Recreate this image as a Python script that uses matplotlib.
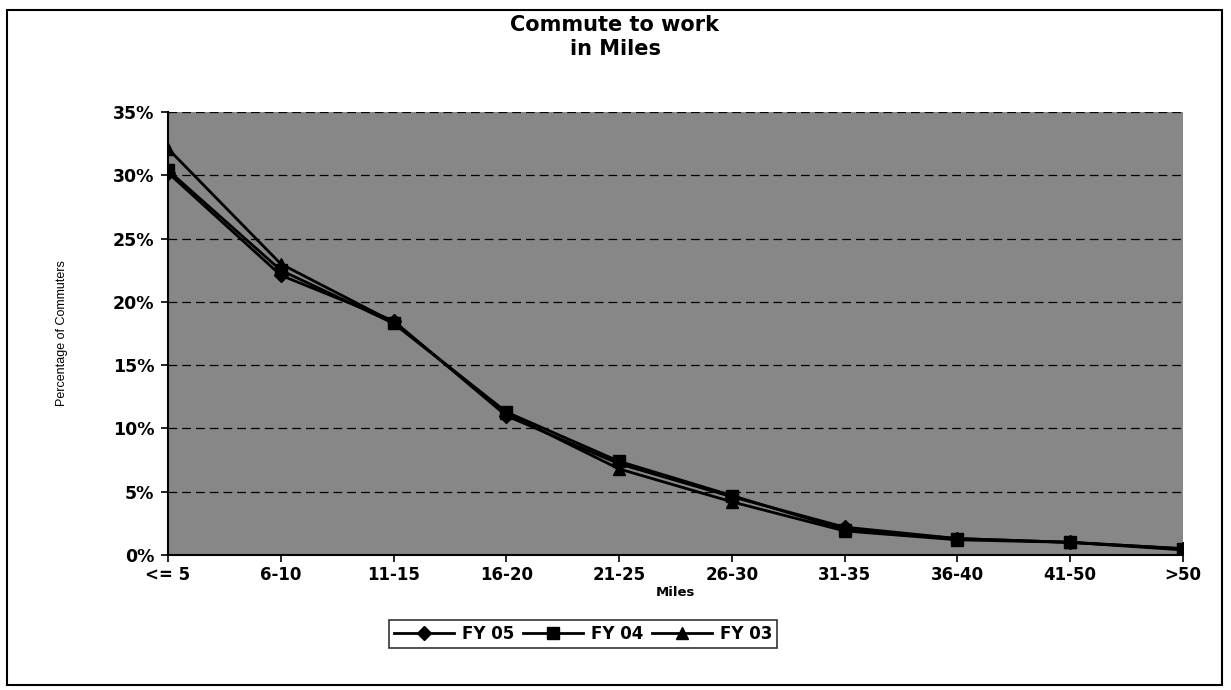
import matplotlib.pyplot as plt
from matplotlib.patches import Rectangle
from matplotlib.ticker import PercentFormatter

# commute distance buckets
categories = ['<= 5', '6-10', '11-15', '16-20', '21-25', '26-30', '31-35', '36-40', '41-50', '>50']

# percentage of commuters per fiscal year
fy05 = [30.2, 22.1, 18.5, 11.0, 7.2, 4.6, 2.2, 1.3, 1.0, 0.5]
fy04 = [30.4, 22.5, 18.3, 11.3, 7.4, 4.7, 2.0, 1.3, 1.0, 0.5]
fy03 = [32.1, 23.0, 18.4, 11.2, 6.8, 4.2, 1.9, 1.2, 1.0, 0.4]

series = [('FY 05', fy05, 'D'), ('FY 04', fy04, 's'), ('FY 03', fy03, '^')]

plt.rcParams['font.family'] = ['DejaVu Sans']

fig = plt.figure(figsize=(12.31, 6.9), dpi=100)
ax = fig.add_axes([168 / 1231, 1 - 555 / 690, (1183 - 168) / 1231, (555 - 112) / 690])
ax.set_facecolor('#878787')

x = list(range(len(categories)))
for name, vals, mk in series:
    ax.plot(x, vals, color='black', lw=2, marker=mk, markersize=8 if mk != 'D' else 7,
            markerfacecolor='black', markeredgecolor='black', label=name)

ax.set_xlim(0, len(categories) - 1)
ax.set_ylim(0, 35)
ax.set_yticks(range(0, 36, 5))
ax.yaxis.set_major_formatter(PercentFormatter(decimals=0))
ax.set_xticks(x)
ax.set_xticklabels(categories)
ax.grid(axis='y', color='black', linestyle=(0, (7, 4)), linewidth=0.9)
ax.set_axisbelow(True)

for s in ['top', 'right']:
    ax.spines[s].set_visible(False)
for s in ['left', 'bottom']:
    ax.spines[s].set_linewidth(1.5)
ax.tick_params(axis='both', direction='out', length=5, width=1.2, labelsize=12, pad=5)
ax.tick_params(axis='x', pad=3)
for lab in ax.get_xticklabels() + ax.get_yticklabels():
    lab.set_fontweight('bold')
for lab in ax.get_yticklabels():
    lab.set_fontsize(12.5)

ax.set_xlabel('Miles', fontsize=9.5, fontweight='bold', labelpad=1)
ax.set_ylabel('Percentage of Commuters', fontsize=9, family='Liberation Sans', labelpad=32)

fig.text(615 / 1231, 1 - 37 / 690, 'Commute to work\nin Miles', ha='center', va='center',
         fontsize=15, fontweight='bold', linespacing=1.3)

leg = fig.legend(loc='center', bbox_to_anchor=(583 / 1231, 1 - 634 / 690), ncol=3,
                 frameon=True, fancybox=False, edgecolor='black', fontsize=12,
                 handlelength=3.6, columnspacing=0.5, handletextpad=0.5, borderpad=0.3)
leg.get_frame().set_linewidth(1.2)
for t in leg.get_texts():
    t.set_fontweight('bold')

# outer chart frame
fig.patches.append(Rectangle((7 / 1231, 5 / 690), 1215 / 1231, 675 / 690, transform=fig.transFigure,
                             fill=False, edgecolor='black', linewidth=1.5))

fig.savefig('out.png', dpi=100)
